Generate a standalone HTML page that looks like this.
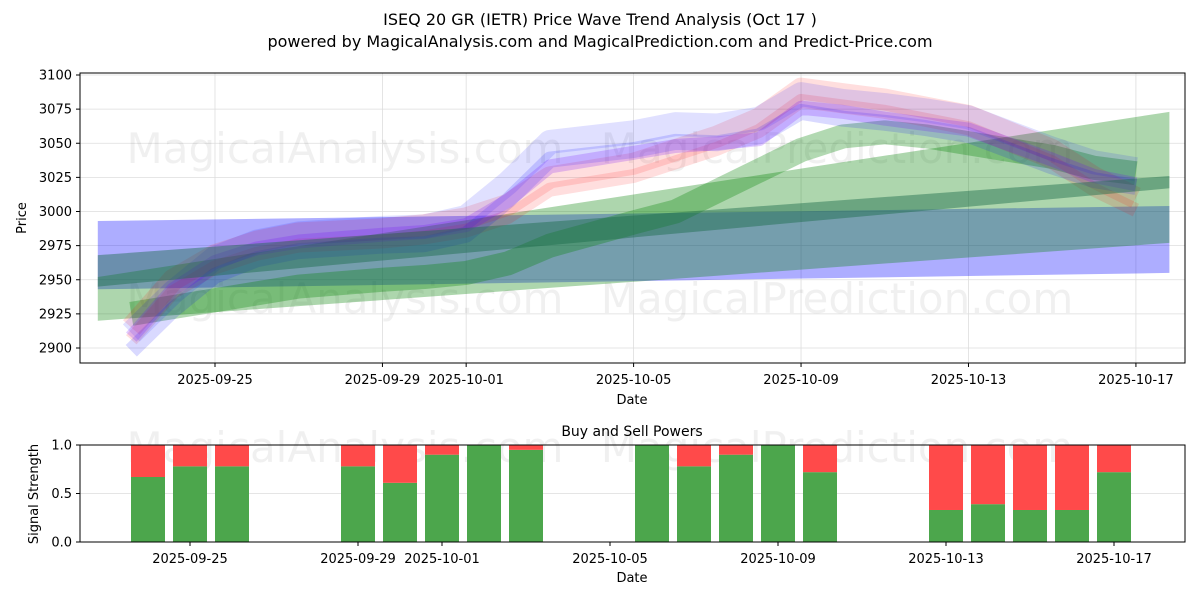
<!DOCTYPE html>
<html><head><meta charset="utf-8"><style>
body{margin:0;background:#fff;font-family:"Liberation Sans","DejaVu Sans",sans-serif}
svg text{font-family:"DejaVu Sans","Liberation Sans",sans-serif}
</style></head><body>
<svg id="c" width="1200" height="600" viewBox="0 0 1200 600" xmlns="http://www.w3.org/2000/svg">
<text x="600" y="25" text-anchor="middle" font-size="16">ISEQ 20 GR (IETR) Price Wave Trend Analysis (Oct 17 )</text>
<text x="600" y="47" text-anchor="middle" font-size="16">powered by MagicalAnalysis.com and MagicalPrediction.com and Predict-Price.com</text>
<g id="topg"></g><g id="botg"></g>
</svg>
<script>
const NS='http://www.w3.org/2000/svg';
// ---- data ----
const priceTicks=[2900,2925,2950,2975,3000,3025,3050,3075,3100];
const dateTicks=['2025-09-25','2025-09-29','2025-10-01','2025-10-05','2025-10-09','2025-10-13','2025-10-17'];
const dateTickDays=[0,4,6,10,14,18,22];
const bandDays=[-2.8,22.8];
const blueBandUpper=[2993,3004];
const blueBandLower=[2943,2955];
const greenBandUpper=[2952,3073];
const greenBandLower=[2920,2977];
const darkBandUpper=[2968,3026];
const darkBandLower=[2945,3017];
const waveDays=[-2,-1,0,1,2,4,5,6,7,8,10,11,12,13,14,15,16,17,18,20,21,22];
const blueWave=[2905,2935,2960,2972,2978,2982,2983,2990,3015,3045,3052,3058,3057,3062,3080,3075,3072,3068,3063,3040,3030,3025];
const purpleWave=[2910,2945,2965,2975,2980,2985,2987,2992,3010,3035,3045,3050,3052,3055,3078,3075,3070,3066,3062,3040,3028,3022];
const redWave=[2915,2950,2968,2978,2984,2987,2990,2995,3005,3025,3035,3045,3055,3068,3090,3086,3082,3076,3070,3045,3025,3010];
const greenWave=[2925,2930,2935,2940,2945,2950,2952,2955,2962,2975,2992,3000,3015,3030,3045,3055,3058,3055,3050,3040,3032,3028];
const barDays=[-1,0,1,4,5,6,7,8,11,12,13,14,15,18,19,20,21,22];
const buyPower=[0.67,0.78,0.78,0.78,0.61,0.9,1.0,0.95,1.0,0.78,0.9,1.0,0.72,0.33,0.39,0.33,0.33,0.72];
const strengthTicks=[0,0.5,1.0];
// ---- axes ----
const X=d=>215+d*41.86, Y=v=>75+(3100-v)*1.365;
const BX=d=>190+d*42, BY=v=>542-v*97;
function el(t,a,p){const e=document.createElementNS(NS,t);for(const k in a)e.setAttribute(k,a[k]);p.appendChild(e);return e;}
const topG=document.getElementById('topg'), botG=document.getElementById('botg');
priceTicks.forEach(v=>{const g=el('line',{x1:80,x2:1185,y1:Y(v),y2:Y(v),stroke:'#ddd','stroke-width':0.8},topG);


const t=el('text',{x:72,y:Y(v)+4.5,'text-anchor':'end','font-size':13},topG);t.textContent=v;


el('line',{x1:76,x2:80,y1:Y(v),y2:Y(v),stroke:'#000'},topG);});
dateTickDays.forEach((d,i)=>{el('line',{x1:X(d),x2:X(d),y1:73,y2:363,stroke:'#ddd','stroke-width':0.8},topG);
el('line',{x1:X(d),x2:X(d),y1:363,y2:367,stroke:'#000'},topG);
const t=el('text',{x:X(d),y:384,'text-anchor':'middle','font-size':13},topG);t.textContent=dateTicks[i];

});
[['MagicalAnalysis.com',345,163],['MagicalPrediction.com',837,163],['MagicalAnalysis.com',345,313],['MagicalPrediction.com',837,313]].forEach(w=>{
const t=el('text',{x:w[1],y:w[2],'text-anchor':'middle','font-size':42,fill:'#000','fill-opacity':0.06},topG);t.textContent=w[0];

});
function band(up,lo,fill,op,name){const p=[[X(bandDays[0]),Y(up[0])],[X(bandDays[1]),Y(up[1])],[X(bandDays[1]),Y(lo[1])],[X(bandDays[0]),Y(lo[0])]];
const e=el('polygon',{points:p.map(q=>q.join(',')).join(' '),fill:fill,'fill-opacity':op},topG);

}
function wave(vals,col,w,op,off,name){const pts=waveDays.map((d,i)=>X(d)+','+Y(vals[i]+off)).join(' ');
const e=el('polyline',{points:pts,fill:'none',stroke:col,'stroke-width':w,'stroke-opacity':op,'stroke-linejoin':'round'},topG);

}
band(blueBandUpper,blueBandLower,'#0000ff',0.32,'blue-band');
band(greenBandUpper,greenBandLower,'#008000',0.32,'green-band');
wave(greenWave,'#008000',24,0.3,0,'green-wave');
wave(redWave,'#ff0000',22,0.13,0,'red-wave');
wave(redWave,'#ff0000',14,0.13,-9,'red-wave-2');
wave(blueWave,'#0000ff',24,0.12,6,'blue-wave');
wave(blueWave,'#0000ff',16,0.15,-7,'blue-wave-2');
wave(purpleWave,'#7000ff',14,0.2,-2,'purple-wave');
band(darkBandUpper,darkBandLower,'#1a6a4a',0.45,'dark-band');
el('rect',{x:80,y:73,width:1105,height:290,fill:'none',stroke:'#000'},topG);
let tx=el('text',{x:632,y:404,'text-anchor':'middle','font-size':13},topG);tx.textContent='Date';
tx=el('text',{x:0,y:0,'text-anchor':'middle','font-size':13,transform:'translate(26,218) rotate(-90)'},topG);tx.textContent='Price';
strengthTicks.forEach(v=>{el('line',{x1:80,x2:1185,y1:BY(v),y2:BY(v),stroke:'#ddd','stroke-width':0.8},botG);
el('line',{x1:76,x2:80,y1:BY(v),y2:BY(v),stroke:'#000'},botG);
const t=el('text',{x:72,y:BY(v)+4.5,'text-anchor':'end','font-size':13},botG);t.textContent=v.toFixed(1);

});
dateTickDays.forEach((d,i)=>{el('line',{x1:BX(d),x2:BX(d),y1:542,y2:546,stroke:'#000'},botG);
const t=el('text',{x:BX(d),y:563,'text-anchor':'middle','font-size':13},botG);t.textContent=dateTicks[i];

});
[['MagicalAnalysis.com',345,462],['MagicalPrediction.com',837,462]].forEach(w=>{
const t=el('text',{x:w[1],y:w[2],'text-anchor':'middle','font-size':42,fill:'#000','fill-opacity':0.06},botG);t.textContent=w[0];});
barDays.forEach((d,i)=>{const b=buyPower[i];
const g=el('rect',{x:BX(d)-17,y:BY(b),width:34,height:BY(0)-BY(b),fill:'#4ca64c'},botG);


const r=el('rect',{x:BX(d)-17,y:BY(1),width:34,height:BY(b)-BY(1),fill:'#ff4a4a'},botG);

});
el('rect',{x:80,y:445,width:1105,height:97,fill:'none',stroke:'#000'},botG);
tx=el('text',{x:632,y:436,'text-anchor':'middle','font-size':14},botG);tx.textContent='Buy and Sell Powers';
tx=el('text',{x:632,y:582,'text-anchor':'middle','font-size':13},botG);tx.textContent='Date';
tx=el('text',{x:0,y:0,'text-anchor':'middle','font-size':13,transform:'translate(38,494) rotate(-90)'},botG);tx.textContent='Signal Strength';
</script>
</body></html>
